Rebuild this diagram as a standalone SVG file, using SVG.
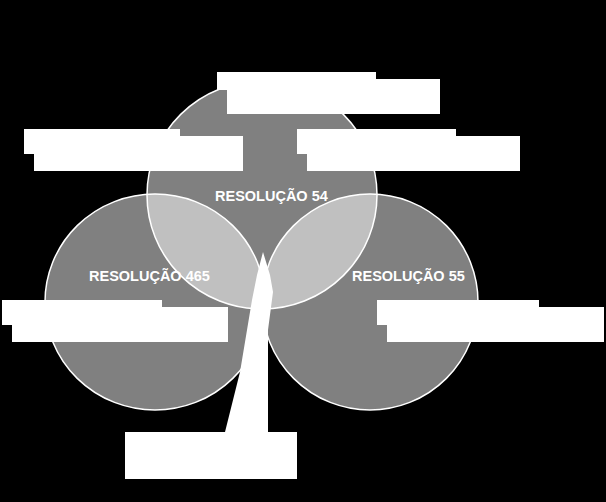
<svg xmlns="http://www.w3.org/2000/svg" width="606" height="502" viewBox="0 0 606 502">
<style>
.set{fill:#ffffff;fill-opacity:0.5;stroke:#ffffff;stroke-width:1.5}
.lbl{font-family:"Liberation Sans",Arial,sans-serif;font-size:14.5px;font-weight:bold;fill:#ffffff}
.box{fill:#ffffff}
</style>
<rect x="0" y="0" width="606" height="502" fill="#000000"/>
<g id="set-54">
<ellipse class="set" cx="262" cy="195" rx="115" ry="114"/>
</g>
<g id="set-465">
<ellipse class="set" cx="155" cy="302" rx="110" ry="108"/>
</g>
<g id="set-55">
<ellipse class="set" cx="370" cy="302" rx="108" ry="108"/>
</g>
<g id="labels">
<text class="lbl" x="215" y="201">RESOLUÇÃO 54</text>
<text class="lbl" x="89" y="281">RESOLUÇÃO 465</text>
<text class="lbl" x="352" y="281">RESOLUÇÃO 55</text>
</g>
<g id="connectors">
<polygon class="box" points="263,252 270,275 273,292 268,330 268,432 225,432 240,372 252,300 257,275"/>
</g>
<g id="note-top">
<rect class="box" x="217" y="72" width="159" height="18"/>
<rect class="box" x="227" y="79" width="213" height="35"/>
</g>
<g id="note-top-left">
<rect class="box" x="24" y="129" width="156" height="25"/>
<rect class="box" x="34" y="136" width="209" height="35"/>
</g>
<g id="note-top-right">
<rect class="box" x="297" y="129" width="159" height="25"/>
<rect class="box" x="307" y="136" width="213" height="35"/>
</g>
<g id="note-left">
<rect class="box" x="2" y="300" width="160" height="25"/>
<rect class="box" x="12" y="307" width="216" height="35"/>
</g>
<g id="note-right">
<rect class="box" x="377" y="300" width="162" height="25"/>
<rect class="box" x="387" y="307" width="217" height="35"/>
</g>
<g id="note-bottom">
<rect class="box" x="125" y="432" width="172" height="47"/>
</g>
</svg>
